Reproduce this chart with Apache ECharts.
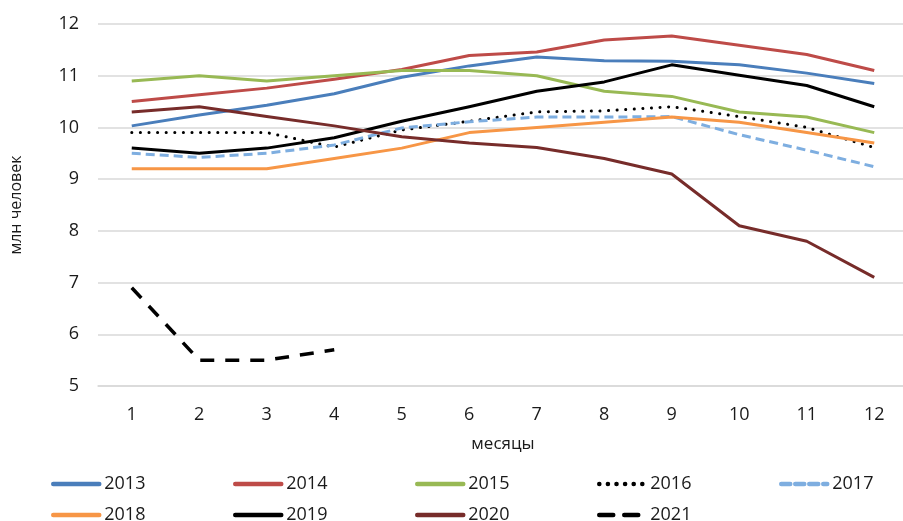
<!DOCTYPE html>
<html>
<head>
<meta charset="utf-8">
<script src="https://cdn.jsdelivr.net/npm/echarts@6/dist/echarts.min.js"></script>
<style>
  html, body { margin: 0; padding: 0; background: #fff; }
  #chart { width: 903px; height: 521px; }
</style>
</head>
<body>
<div id="chart"></div>
<script>
// Monthly totals, million people, by year
const months = ['1', '2', '3', '4', '5', '6', '7', '8', '9', '10', '11', '12'];
const years = ['2013', '2014', '2015', '2016', '2017', '2018', '2019', '2020', '2021'];

const y2013 = [10.03, 10.24, 10.43, 10.65, 10.97, 11.19, 11.36, 11.29, 11.28, 11.21, 11.05, 10.85];
const y2014 = [10.50, 10.63, 10.76, 10.93, 11.12, 11.39, 11.46, 11.69, 11.77, 11.59, 11.41, 11.10];
const y2015 = [10.90, 11.00, 10.90, 11.00, 11.10, 11.10, 11.00, 10.70, 10.60, 10.30, 10.20, 9.90];
const y2016 = [9.90, 9.90, 9.90, 9.62, 9.95, 10.12, 10.30, 10.32, 10.40, 10.21, 10.00, 9.61];
const y2017 = [9.50, 9.42, 9.50, 9.66, 9.99, 10.11, 10.20, 10.20, 10.21, 9.86, 9.56, 9.24];
const y2018 = [9.20, 9.20, 9.20, 9.40, 9.60, 9.90, 10.00, 10.10, 10.20, 10.10, 9.90, 9.70];
const y2019 = [9.60, 9.50, 9.60, 9.80, 10.12, 10.40, 10.70, 10.88, 11.21, 11.01, 10.81, 10.40];
const y2020 = [10.30, 10.40, 10.21, 10.03, 9.82, 9.70, 9.61, 9.40, 9.10, 8.10, 7.80, 7.10];
const y2021 = [6.90, 5.50, 5.50, 5.70];

const yTicks = { min: 5, max: 12, step: 1 };

const values = [y2013, y2014, y2015, y2016, y2017, y2018, y2019, y2020, y2021];

const styles = [
  { color: '#4a7ebb', width: 3, type: 'solid' },
  { color: '#be4b48', width: 3, type: 'solid' },
  { color: '#98b954', width: 3, type: 'solid' },
  { color: '#000000', width: 3, type: [0.1, 8.5], cap: 'round' },
  { color: '#7eaee0', width: 3, type: [9, 5] },
  { color: '#f79646', width: 3, type: 'solid' },
  { color: '#000000', width: 3, type: 'solid' },
  { color: '#772c2a', width: 3, type: 'solid' },
  { color: '#000000', width: 3.5, type: [14, 11] }
];

const FONT = '"Open Sans", "Noto Sans", sans-serif';

const series = years.map((name, i) => ({
  name: name,
  type: 'line',
  data: values[i],
  symbol: 'none',
  showSymbol: false,
  smooth: false,
  lineStyle: {
    color: styles[i].color,
    width: styles[i].width,
    type: styles[i].type,
    cap: styles[i].cap || 'butt',
    join: 'round'
  },
  itemStyle: { color: styles[i].color },
  emphasis: { disabled: true },
  animation: false
}));

// legend laid out in two rows of five columns
const legendCols = [51, 233, 415, 597, 779];
const legendRows = [475, 506];
const legends = years.map((name, i) => ({
  data: [name],
  left: legendCols[i % 5],
  top: legendRows[Math.floor(i / 5)],
  itemWidth: 46,
  itemHeight: 20,
  itemGap: 0,
  padding: 0,
  selectedMode: false,
  itemStyle: { opacity: 0 },
  lineStyle: { width: 4.5, cap: 'round' },
  textStyle: { fontFamily: FONT, fontSize: 18, color: '#1a1a1a' }
}));

const chart = echarts.init(document.getElementById('chart'), null, { renderer: 'canvas' });
chart.setOption({
  animation: false,
  backgroundColor: '#ffffff',
  grid: { left: 98, top: 24, width: 810, height: 362, containLabel: false, outerBoundsMode: 'none' },
  legend: legends,
  xAxis: {
    type: 'category',
    data: months,
    boundaryGap: true,
    name: 'месяцы',
    nameLocation: 'middle',
    nameGap: 50,
    nameTextStyle: { fontFamily: FONT, fontSize: 17, color: '#1a1a1a' },
    axisLine: { show: true, lineStyle: { color: '#d9d9d9', width: 1.5 } },
    axisTick: { show: false },
    axisLabel: { margin: 20, fontFamily: FONT, fontSize: 18, color: '#1a1a1a' }
  },
  yAxis: {
    type: 'value',
    min: yTicks.min,
    max: yTicks.max,
    interval: yTicks.step,
    name: 'млн человек',
    nameLocation: 'middle',
    nameGap: 74,
    nameRotate: 90,
    nameTextStyle: { fontFamily: FONT, fontSize: 16, color: '#1a1a1a' },
    axisLine: { show: false },
    axisTick: { show: false },
    axisLabel: { margin: 19, fontFamily: FONT, fontSize: 18, color: '#1a1a1a' },
    splitLine: { show: true, lineStyle: { color: '#d9d9d9', width: 1.5 } }
  },
  series: series
});
</script>
</body>
</html>
